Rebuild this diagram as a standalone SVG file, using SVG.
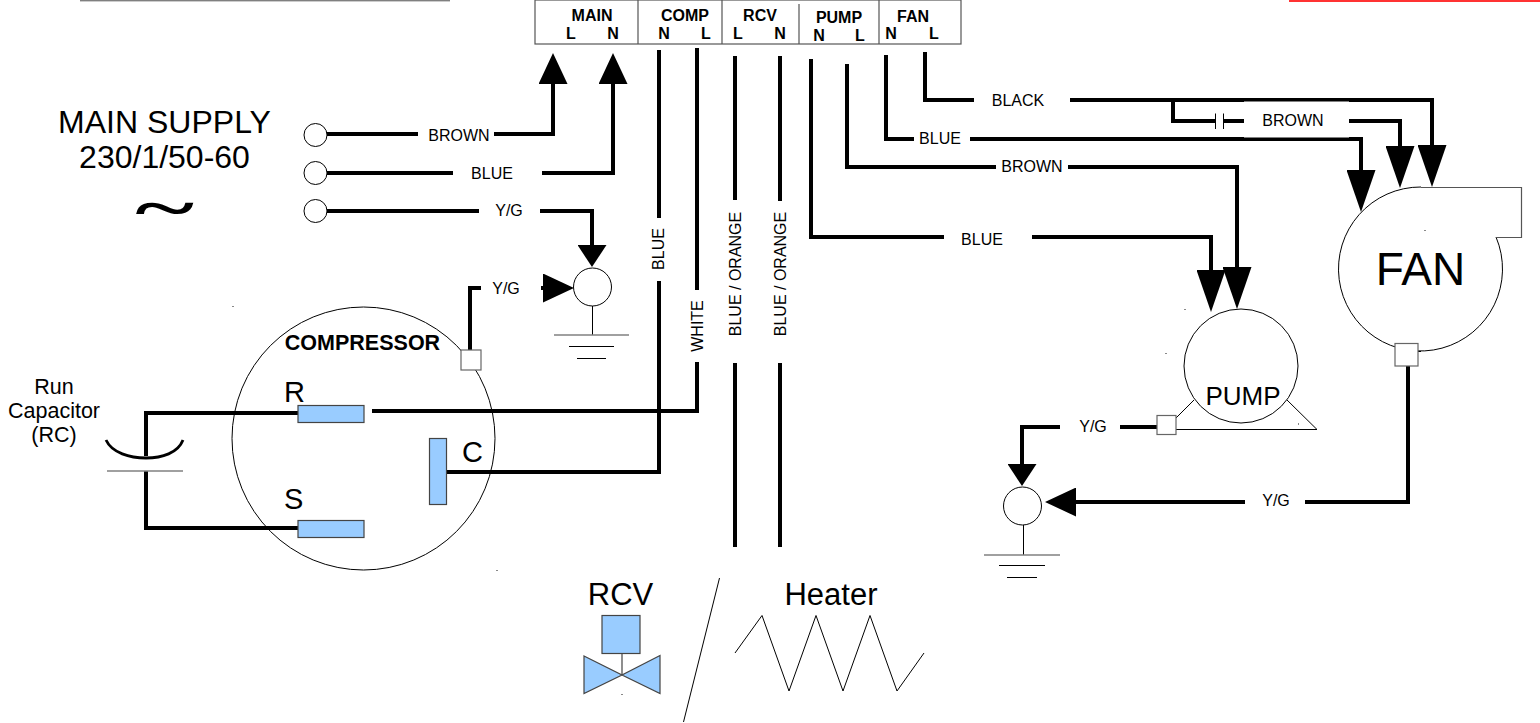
<svg xmlns="http://www.w3.org/2000/svg" width="1540" height="723" viewBox="0 0 1540 723">
<style>
text{font-family:"Liberation Sans",Arial,sans-serif;fill:#000}
.w{fill:none;stroke:#000;stroke-width:4;stroke-linejoin:miter}
.t{fill:none;stroke:#000;stroke-width:1}
.g{fill:none;stroke:#808080;stroke-width:1.4}
.ws{fill:#fff;stroke:#000;stroke-width:1}
.sq{fill:#fff;stroke:#666;stroke-width:1.2}
.bl{fill:#99ccff;stroke:#444;stroke-width:1.2}
.lb{font-size:16px;text-anchor:middle}
.tb{font-size:16px;font-weight:bold;text-anchor:middle}
.sp{fill:#888}
</style>
<defs>
<marker id="a22" markerUnits="userSpaceOnUse" markerWidth="22" markerHeight="29" refX="0" refY="14.500" orient="auto"><path d="M0,0L22,14.500L0,29Z"/></marker>
<marker id="a31" markerUnits="userSpaceOnUse" markerWidth="31" markerHeight="29" refX="0" refY="14.500" orient="auto"><path d="M0,0L31,14.500L0,29Z"/></marker>
<marker id="a42" markerUnits="userSpaceOnUse" markerWidth="42" markerHeight="29" refX="0" refY="14.500" orient="auto"><path d="M0,0L42,14.500L0,29Z"/></marker>
</defs>
<rect x="80" y="0" width="370" height="1.4" fill="#808080"/>
<rect x="1289" y="0" width="251" height="2" fill="#ff3333"/>

<g id="connectors">
<path class="w" d="M327,134H418"/><path class="w" d="M494,134H553V84" marker-end="url(#a31)"/>
<path class="w" d="M327,173H453"/><path class="w" d="M542,173H613V84" marker-end="url(#a31)"/>
<path class="w" d="M327,211H479"/><path class="w" d="M540,211H592V245" marker-end="url(#a22)"/>
<path class="w" d="M470,350V288H481"/><path class="w" d="M541,288H543" marker-end="url(#a31)"/>
<path class="w" d="M298,413H146V456"/><path class="w" d="M146,471V528H298"/>
<path class="w" d="M446,472H659V281"/><path class="w" d="M659,218V50"/>
<path class="w" d="M372,411H697V362"/><path class="w" d="M697,290V48"/>
<path class="w" d="M735,56V200"/><path class="w" d="M735,363V547"/>
<path class="w" d="M780,56V201"/><path class="w" d="M780,363V547"/>
<path class="w" d="M925,52V100H974"/><path class="w" d="M1070,100H1432V145" marker-end="url(#a42)"/>
<path class="w" d="M1173,100V121H1216"/><path class="w" d="M1223,121H1244"/>
<path class="w" d="M1349,121H1400V146" marker-end="url(#a42)"/>
<path class="w" d="M886,55V139H914"/><path class="w" d="M970,139H1361V170" marker-end="url(#a42)"/>
<path class="w" d="M847,64V167H996"/><path class="w" d="M1068,167H1237V267" marker-end="url(#a42)"/>
<path class="w" d="M811,59V237H944"/><path class="w" d="M1032,237H1211V270" marker-end="url(#a42)"/>
<path class="w" d="M1408,366V502H1305"/><path class="w" d="M1245,502H1076" marker-end="url(#a31)"/>
<path class="w" d="M1157,427H1120"/><path class="w" d="M1060,427H1022V464" marker-end="url(#a22)"/>
<rect x="1244" y="101.5" width="105" height="36" fill="#fff"/>
<path class="t" d="M1215.500,113.500V129M1223.500,113.500V129"/>
</g>

<g id="labels">
<text class="lb" x="459" y="141">BROWN</text>
<text class="lb" x="492" y="179">BLUE</text>
<text class="lb" x="509" y="216">Y/G</text>
<text class="lb" x="506" y="294">Y/G</text>
<text class="lb" transform="translate(664,249) rotate(-90)">BLUE</text>
<text class="lb" transform="translate(702.500,326) rotate(-90)">WHITE</text>
<text class="lb" transform="translate(741,274) rotate(-90)">BLUE / ORANGE</text>
<text class="lb" transform="translate(786,274) rotate(-90)">BLUE / ORANGE</text>
<text class="lb" x="1018" y="106">BLACK</text>
<text class="lb" x="1293" y="126">BROWN</text>
<text class="lb" x="940" y="144">BLUE</text>
<text class="lb" x="1032" y="172">BROWN</text>
<text class="lb" x="982" y="245">BLUE</text>
<text class="lb" x="1276" y="506">Y/G</text>
<text class="lb" x="1093" y="432">Y/G</text>
<text font-size="32" text-anchor="middle"><tspan x="164.500" y="133">MAIN SUPPLY</tspan><tspan x="164.500" y="168">230/1/50-60</tspan></text>
<text transform="translate(164.500,228) scale(1.13,0.62)" font-size="100" font-weight="bold" text-anchor="middle" style="font-family:'Liberation Serif',serif">~</text>
<text font-size="21.500" text-anchor="middle"><tspan x="54" y="394">Run</tspan><tspan x="54" y="418">Capacitor</tspan><tspan x="54" y="442">(RC)</tspan></text>
</g>

<g id="terminal-block">
<rect x="535" y="0" width="426" height="44" fill="#fff" stroke="#555" stroke-width="1.2"/>
<path d="M638,0V44M722,0V44M799,4V44M879,0V44" fill="none" stroke="#555" stroke-width="1.2"/>
<text class="tb" x="592" y="21">MAIN</text><text class="tb" x="571" y="39">L</text><text class="tb" x="613" y="39">N</text>
<text class="tb" x="685" y="21">COMP</text><text class="tb" x="664" y="39">N</text><text class="tb" x="706" y="39">L</text>
<text class="tb" x="760" y="21">RCV</text><text class="tb" x="738" y="39">L</text><text class="tb" x="780" y="39">N</text>
<text class="tb" x="839" y="23">PUMP</text><text class="tb" x="819" y="41">N</text><text class="tb" x="860" y="41">L</text>
<text class="tb" x="913" y="22">FAN</text><text class="tb" x="891" y="39">N</text><text class="tb" x="934" y="39">L</text>
</g>

<g id="supply-terminals">
<circle class="ws" cx="315.500" cy="135" r="11.500"/>
<circle class="ws" cx="315.500" cy="173" r="11.500"/>
<circle class="ws" cx="315.500" cy="211" r="11.500"/>
</g>

<g id="ground-1">
<circle class="ws" cx="592.500" cy="287" r="19"/>
<path class="t" d="M592.500,306V335M569,346.500H614M577,358.500H606"/>
<path class="g" d="M554,335H629"/>
</g>

<g id="ground-2">
<circle class="ws" cx="1022.500" cy="506" r="19"/>
<path class="t" d="M1023.500,525V555M999,565.500H1045M1007,577.500H1037"/>
<path class="g" d="M984,555H1060"/>
</g>

<g id="capacitor">
<path d="M106,440C112,453 130,458 146,458C162,458 178,453 183,440" fill="none" stroke="#000" stroke-width="2.800"/>
<path class="g" d="M107,471H183"/>
</g>

<g id="compressor">
<circle class="t" cx="363.500" cy="438.500" r="131.500"/>
<rect class="sq" x="461" y="350" width="20" height="20"/>
<rect class="bl" x="298" y="405.500" width="66" height="17"/>
<rect class="bl" x="298" y="520.500" width="66" height="17"/>
<rect class="bl" x="429.500" y="438.500" width="17" height="66"/>
<text x="362.500" y="350" font-size="21.500" font-weight="bold" text-anchor="middle">COMPRESSOR</text>
<text x="284" y="402" font-size="29">R</text>
<text x="284" y="509" font-size="29">S</text>
<text x="462" y="462" font-size="29">C</text>
</g>

<g id="pump">
<path class="t" d="M1176,418L1194,400M1176,429.500H1317L1287,400"/>
<circle class="t" cx="1241" cy="366" r="57"/>
<rect class="sq" x="1157" y="415.500" width="19" height="19"/>
<text x="1243" y="405" font-size="26" text-anchor="middle">PUMP</text>
</g>

<g id="fan">
<path class="t" d="M1496,237A82,82 0 1 1 1421,187"/>
<path d="M1421,187.500H1521.500V237.500H1496" fill="none" stroke="#555" stroke-width="1.200"/>
<path class="t" d="M1418,351.500H1421"/>
<rect class="sq" x="1395" y="343.500" width="23" height="22.500"/>
<text x="1420.500" y="285" font-size="46" text-anchor="middle">FAN</text>
</g>

<g id="rcv">
<text x="620.500" y="605" font-size="31" text-anchor="middle">RCV</text>
<rect class="bl" x="602" y="615.500" width="38" height="38"/>
<path d="M622,653V675" stroke="#444" stroke-width="1.200" fill="none"/>
<path class="bl" d="M584,656L622,675L584,693.500ZM660,655.500L622,675L660,693.500Z"/>
</g>

<path id="divider" class="t" d="M719.500,578L683.500,722"/>

<g id="heater">
<text x="831" y="605" font-size="31" text-anchor="middle">Heater</text>
<path class="t" d="M735,653L762,615.500L789,691L816,615.500L843,691L870,615.500L897,691L924,653"/>
</g>

<g id="specks">
<rect class="sp" x="232" y="306" width="2" height="1"/>
<rect class="sp" x="496" y="570" width="2" height="1"/>
<rect class="sp" x="1184" y="309" width="2" height="1"/>
<rect class="sp" x="1165" y="353" width="2" height="1"/>
<rect class="sp" x="1424" y="230" width="2" height="1"/>
<rect class="sp" x="1298" y="423" width="1" height="2"/>
<rect class="sp" x="621" y="694" width="2" height="1"/>
</g>
</svg>
